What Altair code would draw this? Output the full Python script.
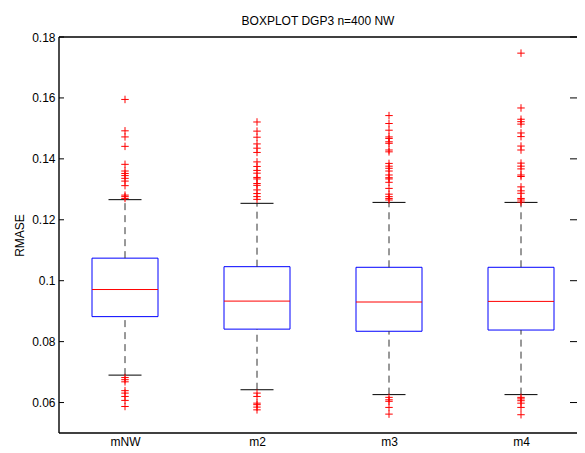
import json
import altair as alt
import pandas as pd

# ---- data ----
categories = ["mNW", "m2", "m3", "m4"]
q1 = [0.0882, 0.0841, 0.0834, 0.0838]
median = [0.0971, 0.0933, 0.0930, 0.0932]
q3 = [0.1074, 0.1046, 0.1044, 0.1044]
whisker_low = [0.0690, 0.0642, 0.0626, 0.0626]
whisker_high = [0.1266, 0.1254, 0.1257, 0.1257]

outliers_mNW = [0.1595, 0.1492, 0.1472, 0.1441, 0.1382, 0.1360, 0.1352, 0.1345,
                0.1336, 0.1327, 0.1312, 0.1281, 0.1276, 0.1270,
                0.0682, 0.0675, 0.0668, 0.0639, 0.0631, 0.0620, 0.0607, 0.0587]
outliers_m2 = [0.1521, 0.1491, 0.1471, 0.1449, 0.1435, 0.1421, 0.1390, 0.1375,
               0.1362, 0.1353, 0.1339, 0.1334, 0.1319, 0.1313, 0.1298, 0.1286,
               0.1276, 0.1267,
               0.0631, 0.0620, 0.0598, 0.0593, 0.0585, 0.0576]
outliers_m3 = [0.1542, 0.1516, 0.1494, 0.1472, 0.1467, 0.1456, 0.1451, 0.1429,
               0.1423, 0.1385, 0.1376, 0.1369, 0.1360, 0.1347, 0.1338, 0.1334,
               0.1323, 0.1303, 0.1284, 0.1276, 0.1270, 0.1265,
               0.0617, 0.0609, 0.0604, 0.0584, 0.0562]
outliers_m4 = [0.1747, 0.1567, 0.1530, 0.1522, 0.1514, 0.1485, 0.1473, 0.1442,
               0.1429, 0.1386, 0.1376, 0.1367, 0.1347, 0.1342, 0.1308, 0.1295,
               0.1287, 0.1270, 0.1265, 0.1258,
               0.0617, 0.0612, 0.0606, 0.0598, 0.0584, 0.0560]

y_ticks = [0.06, 0.08, 0.10, 0.12, 0.14, 0.16, 0.18]

# ---- tables ----
stats = pd.DataFrame({
    "idx": list(range(1, len(categories) + 1)),
    "cat": categories,
    "q1": q1, "median": median, "q3": q3,
    "wlo": whisker_low, "whi": whisker_high,
})
out_rows = []
for i, vals in enumerate([outliers_mNW, outliers_m2, outliers_m3, outliers_m4], start=1):
    for v in vals:
        out_rows.append({"idx": i, "value": v})
outliers = pd.DataFrame(out_rows)
ticks = pd.DataFrame({"t": y_ticks})

# plot area: the reference's right frame lies beyond the window, so the
# x range is cut where the window ends (132 px per category)
W, H = 518, 396
PX_PER_CAT = 132.0
FONT = "Liberation Sans"

label_expr = json.dumps(categories) + "[datum.value - 1]"
xscale = alt.Scale(domain=[0.5, 0.5 + W / PX_PER_CAT], nice=False, zero=False)
yscale = alt.Scale(domain=[0.05, 0.18], nice=False, zero=False)

xaxis = alt.Axis(values=[1, 2, 3, 4], labelExpr=label_expr, ticks=False, tickSize=0,
                 domain=False, grid=False, title=None, labelPadding=3,
                 labelFont=FONT, labelFontSize=12, labelColor="#000000")
yaxis = alt.Axis(values=y_ticks, format="~g", ticks=False, tickSize=0, domain=False,
                 grid=False, title="RMASE", labelPadding=4, labelFont=FONT,
                 labelFontSize=12, labelColor="#000000", titleFont=FONT,
                 titleFontSize=12, titleFontWeight="normal", titleColor="#000000",
                 titleX=-40, titleY=H / 2, titleAngle=270, titleAlign="center",
                 titleBaseline="middle")

base = alt.Chart(stats).transform_calculate(
    lo="datum.idx - 0.25", hi="datum.idx + 0.25",
    clo="datum.idx - 0.125", chi="datum.idx + 0.125",
)

box = base.mark_rect(fillOpacity=0, stroke="#0000ff", strokeWidth=1).encode(
    x=alt.X("lo:Q", scale=xscale, axis=xaxis),
    x2="hi:Q",
    y=alt.Y("q1:Q", scale=yscale, axis=yaxis),
    y2="q3:Q",
)
med = base.mark_rule(color="#ff0000", strokeWidth=1).encode(
    x="lo:Q", x2="hi:Q", y="median:Q"
)
wh_up = base.mark_rule(color="#333333", strokeWidth=1, strokeDash=[7, 5]).encode(
    x="idx:Q", y="q3:Q", y2="whi:Q"
)
wh_dn = base.mark_rule(color="#333333", strokeWidth=1, strokeDash=[7, 5]).encode(
    x="idx:Q", y="wlo:Q", y2="q1:Q"
)
cap_up = base.mark_rule(color="#000000", strokeWidth=1).encode(
    x="clo:Q", x2="chi:Q", y="whi:Q"
)
cap_dn = base.mark_rule(color="#000000", strokeWidth=1).encode(
    x="clo:Q", x2="chi:Q", y="wlo:Q"
)
pts = alt.Chart(outliers).mark_point(
    shape="M-1,0L1,0M0,-1L0,1", size=56, filled=False, color="#ff0000",
    strokeWidth=1, opacity=1
).encode(x="idx:Q", y="value:Q")

tick_l = alt.Chart(ticks).mark_rule(color="#000000", strokeWidth=1).encode(
    y="t:Q", x=alt.value(0), x2=alt.value(5)
)
tick_r = alt.Chart(ticks).mark_rule(color="#000000", strokeWidth=1).encode(
    y="t:Q", x=alt.value(W - 7), x2=alt.value(W)
)

# frame (top, left, bottom; the right edge lies outside the window)
frame_src = alt.Chart(pd.DataFrame({"k": [0]}))
frame_top = frame_src.mark_rule(color="#000000", strokeWidth=1.4).encode(
    x=alt.value(0), x2=alt.value(W), y=alt.value(0))
frame_bot = frame_src.mark_rule(color="#000000", strokeWidth=1.4).encode(
    x=alt.value(0), x2=alt.value(W), y=alt.value(H))
frame_left = frame_src.mark_rule(color="#000000", strokeWidth=1.4).encode(
    x=alt.value(0), y=alt.value(0), y2=alt.value(H))

chart = alt.layer(box, wh_up, wh_dn, cap_up, cap_dn, med, pts, tick_l, tick_r,
                  frame_top, frame_bot, frame_left).properties(
    width=W, height=H,
    title=alt.TitleParams("BOXPLOT DGP3 n=400 NW", font=FONT, fontSize=12,
                          fontWeight="normal", color="#000000", anchor="middle",
                          offset=3),
    autosize=alt.AutoSizeParams(type="none"),
    padding={"left": 51, "top": 29, "right": 0, "bottom": 19},
    background="#ffffff",
).configure_view(strokeWidth=0)

chart.save("out.html", embed_options={"renderer": "svg", "actions": False})
